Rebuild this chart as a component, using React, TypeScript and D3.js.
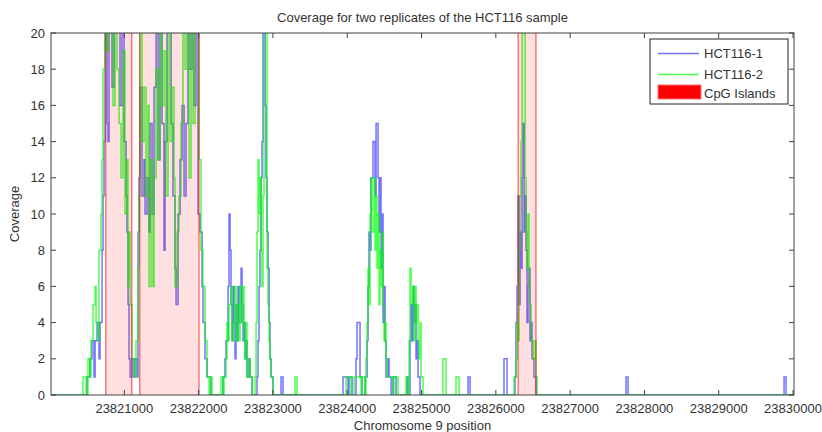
import React from "react";
import * as d3 from "d3";

// Positions are bp offsets after chromosome 9 position 23,820,000
const REGION_START = 23820000;

const hct1Offsets = [
  498, 538, 565, 592, 606, 633, 659, 673, 700, 713, 727, 740, 767, 781, 794, 834, 861, 902, 942, 969,
  996, 1023, 1036, 1050, 1063, 1077, 1104, 1131, 1144, 1171, 1184, 1198, 1211, 1238, 1265, 1279, 1306, 1332, 1346, 1373,
  1400, 1427, 1454, 1480, 1507, 1534, 1548, 1575, 1602, 1629, 1655, 1682, 1696, 1723, 1750, 1777, 1804, 1830, 1857, 1884,
  1911, 1938, 1965, 1992, 2019, 2046, 2059, 2086, 2113, 2167,
  2328, 2355, 2369, 2396, 2409, 2423, 2436, 2450, 2463, 2476, 2490, 2503, 2517, 2530, 2544, 2571, 2584, 2598, 2611, 2625,
  2638, 2651, 2678, 2692, 2719, 2786, 2799, 2813, 2826, 2840, 2853, 2867, 2894, 2907, 2921, 2934, 2948, 2961, 2974, 3001,
  3109, 3136,
  3943, 4011, 4024, 4065, 4118, 4132, 4172, 4199, 4240, 4267, 4280, 4293, 4307, 4320, 4347, 4374, 4388, 4415, 4428, 4441,
  4455, 4468, 4482, 4495, 4509, 4522, 4549, 4563, 4590, 4616, 4657, 4805, 4818, 4845, 4859, 4872, 4886, 4899, 4913, 4926,
  4939, 4953, 4980, 5626, 5653, 6110, 6151,
  6258, 6271, 6285, 6299, 6312, 6326, 6339, 6353, 6366, 6380, 6393, 6407, 6420, 6433, 6447, 6460, 6474, 6487, 6514, 6541,
  7752, 7779, 9879, 9906,
];
const hct1Coverage = [
  1, 2, 3, 1, 3, 4, 2, 4, 8, 11, 14, 22, 15, 14, 24, 17, 25, 21, 16, 22,
  14, 11, 9, 5, 2, 1, 2, 1, 2, 1, 9, 12, 17, 11, 13, 10, 12, 9, 15, 10,
  17, 22, 13, 25, 15, 8, 14, 21, 23, 15, 11, 7, 5, 10, 13, 16, 11, 15, 25, 18,
  22, 16, 21, 10, 9, 6, 4, 2, 1, 0,
  1, 2, 3, 6, 10, 8, 5, 3, 6, 4, 2, 5, 3, 6, 4, 7, 5, 3, 4, 2,
  3, 1, 2, 1, 0, 1, 3, 6, 8, 12, 14, 25, 16, 12, 9, 7, 4, 2, 1, 0,
  1, 0,
  1, 0, 1, 0, 2, 4, 1, 0, 1, 3, 6, 9, 8, 12, 14, 11, 15, 12, 9, 12,
  7, 10, 4, 6, 3, 1, 2, 1, 0, 1, 0, 1, 0, 3, 5, 3, 6, 4, 5, 2,
  3, 1, 0, 1, 0, 2, 0,
  1, 4, 6, 11, 5, 9, 7, 12, 15, 9, 11, 8, 4, 6, 7, 3, 4, 2, 1, 0,
  1, 0, 1, 0,
];

const hct2Offsets = [
  444, 485, 511, 538, 552, 579, 606, 619, 646, 659, 686, 700, 713, 740, 767, 794, 821, 848, 875, 902,
  929, 956, 983, 1009, 1036, 1050, 1063, 1077, 1104, 1131, 1157, 1184, 1198, 1211, 1238, 1265, 1292, 1319, 1332, 1359,
  1386, 1400, 1427, 1454, 1480, 1507, 1534, 1561, 1588, 1615, 1642, 1669, 1682, 1709, 1736, 1763, 1790, 1817, 1844, 1871,
  1898, 1925, 1952, 1978, 2005, 2032, 2059, 2086, 2113, 2140, 2153, 2180,
  2301, 2328, 2342, 2369, 2382, 2396, 2409, 2436, 2450, 2463, 2490, 2503, 2517, 2544, 2557, 2584, 2598, 2611, 2625, 2638,
  2651, 2678, 2692, 2719, 2759, 2773, 2786, 2799, 2813, 2826, 2840, 2853, 2867, 2880, 2894, 2921, 2934, 2948, 2961, 2974,
  3001, 3297, 3324,
  3984, 4051, 4092, 4186, 4199, 4240, 4253, 4267, 4280, 4293, 4307, 4320, 4334, 4361, 4374, 4388, 4401, 4415, 4428, 4441,
  4455, 4468, 4482, 4495, 4509, 4522, 4536, 4616, 4630, 4684, 4791, 4818, 4832, 4845, 4859, 4886, 4899, 4913, 4926, 4939,
  4953, 4966, 4980, 4993, 5020, 5289, 5330, 5464, 5505,
  6245, 6271, 6285, 6299, 6312, 6326, 6339, 6353, 6366, 6380, 6393, 6407, 6420, 6433, 6447, 6460, 6474, 6501, 6528, 6541,
  6555,
];
const hct2Coverage = [
  1, 0, 2, 1, 3, 5, 6, 4, 3, 8, 10, 13, 18, 24, 19, 25, 20, 16, 22, 18,
  15, 12, 19, 10, 13, 6, 9, 5, 2, 1, 3, 7, 11, 21, 14, 17, 11, 16, 6, 13,
  6, 12, 18, 13, 22, 16, 19, 11, 25, 14, 17, 12, 6, 9, 11, 15, 24, 18, 22, 12,
  20, 15, 25, 21, 13, 8, 6, 3, 1, 0, 1, 0,
  1, 0, 1, 2, 4, 3, 5, 6, 3, 4, 6, 3, 5, 3, 6, 4, 6, 3, 2, 4,
  1, 2, 1, 0, 1, 4, 9, 13, 10, 12, 8, 6, 11, 21, 23, 7, 5, 3, 2, 1,
  0, 1, 0,
  1, 0, 1, 0, 1, 0, 2, 4, 7, 5, 10, 12, 9, 12, 8, 11, 7, 10, 5, 8,
  6, 9, 5, 3, 4, 2, 1, 0, 1, 0, 1, 0, 3, 7, 5, 6, 3, 6, 4, 5,
  3, 2, 4, 1, 0, 2, 0, 1, 0,
  1, 2, 4, 3, 8, 11, 14, 24, 20, 25, 12, 9, 7, 10, 6, 5, 3, 2, 3, 1,
  0,
];

const cpgStarts = [23820750, 23821207, 23826300];
const cpgEnds = [23821100, 23822005, 23826540];

const xTicks = [23821000, 23822000, 23823000, 23824000, 23825000, 23826000, 23827000, 23828000, 23829000, 23830000];
const yTicks = [0, 2, 4, 6, 8, 10, 12, 14, 16, 18, 20];

const seriesNames = ["HCT116-1", "HCT116-2"];
const islandName = "CpG Islands";
const titleText = "Coverage for two replicates of the HCT116 sample";
const xLabelText = "Chromosome 9 position";
const yLabelText = "Coverage";

const W = 822;
const H = 432;
const M = { left: 51, right: 28, top: 33, bottom: 37 };
const FONT = "'Liberation Sans', Arial, Helvetica, sans-serif";
const TEXT = "#333";
const AXIS = "#404040";

export default function App() {
  const x = d3.scaleLinear().domain([23820013, 23830013]).range([M.left, W - M.right]);
  const y = d3.scaleLinear().domain([0, 20]).range([H - M.bottom, M.top]);
  const line = d3
    .line<[number, number]>()
    .x((d) => x(d[0]))
    .y((d) => y(d[1]))
    .curve(d3.curveStepAfter);

  const mk = (offs: number[], cov: number[]) => {
    const pts: [number, number][] = [[x.domain()[0], 0], [REGION_START + offs[0], 0]];
    offs.forEach((o, i) => pts.push([REGION_START + o, cov[i]]));
    pts.push([x.domain()[1], 0]);
    return line(pts) || "";
  };
  const p1 = mk(hct1Offsets, hct1Coverage);
  const p2 = mk(hct2Offsets, hct2Coverage);

  const x0 = M.left, x1 = W - M.right, yb = H - M.bottom, yt = M.top;
  const tick = 5;
  const colors = ["#0000ff", "#00ff00"];
  const opac = [0.55, 0.7];

  const lg = { x: 650, y: 39, w: 138, h: 65 };

  return (
    <svg width={W} height={H} style={{ position: "absolute", left: 0, top: 0, background: "#fff" }}>
      <rect x={0} y={0} width={W} height={H} fill="#fff" />
      <defs>
        <clipPath id="plot">
          <rect x={x0} y={yt} width={x1 - x0} height={yb - yt} />
        </clipPath>
      </defs>
      <g clipPath="url(#plot)">
        <path d={p1} fill="none" stroke={colors[0]} strokeOpacity={opac[0]} strokeWidth={1.5} />
        <path d={p2} fill="none" stroke={colors[1]} strokeOpacity={opac[1]} strokeWidth={1.5} />
        {cpgStarts.map((s, i) => (
          <rect
            key={i}
            x={x(s)}
            y={yt - 2}
            width={x(cpgEnds[i]) - x(s)}
            height={yb - yt + 4}
            fill="#ff0000"
            fillOpacity={0.12}
            stroke="#ff0000"
            strokeOpacity={0.55}
            strokeWidth={1.4}
          />
        ))}
      </g>
      {/* axes box */}
      <rect x={x0} y={yt} width={x1 - x0} height={yb - yt} fill="none" stroke={AXIS} strokeWidth={1} />
      {xTicks.map((t) => (
        <g key={t}>
          <line x1={x(t)} x2={x(t)} y1={yb} y2={yb - tick} stroke={AXIS} />
          <line x1={x(t)} x2={x(t)} y1={yt} y2={yt + tick} stroke={AXIS} />
          <text x={x(t)} y={yb + 18} textAnchor="middle" fontFamily={FONT} fontSize={13} fill={TEXT}>
            {t}
          </text>
        </g>
      ))}
      {yTicks.map((t) => (
        <g key={t}>
          <line x1={x0} x2={x0 + tick} y1={y(t)} y2={y(t)} stroke={AXIS} />
          <line x1={x1} x2={x1 - tick} y1={y(t)} y2={y(t)} stroke={AXIS} />
          <text x={x0 - 6} y={y(t) + 4.5} textAnchor="end" fontFamily={FONT} fontSize={13} fill={TEXT}>
            {t}
          </text>
        </g>
      ))}
      <text x={(x0 + x1) / 2} y={22} textAnchor="middle" fontFamily={FONT} fontSize={13} fill={TEXT}>
        {titleText}
      </text>
      <text x={(x0 + x1) / 2} y={430} textAnchor="middle" fontFamily={FONT} fontSize={13} fill={TEXT}>
        {xLabelText}
      </text>
      <text
        transform={`translate(19, ${(yt + yb) / 2}) rotate(-90)`}
        textAnchor="middle"
        fontFamily={FONT}
        fontSize={13}
        fill={TEXT}
      >
        {yLabelText}
      </text>
      {/* legend */}
      <g>
        <rect x={lg.x} y={lg.y} width={lg.w} height={lg.h} fill="#fff" stroke="#222" strokeWidth={1} />
        {seriesNames.map((n, i) => (
          <g key={n}>
            <line
              x1={lg.x + 8}
              x2={lg.x + 49}
              y1={lg.y + 14.5 + i * 21}
              y2={lg.y + 14.5 + i * 21}
              stroke={colors[i]}
              strokeOpacity={opac[i]}
              strokeWidth={1.5}
            />
            <text x={lg.x + 54} y={lg.y + 19 + i * 21} fontFamily={FONT} fontSize={13} fill={TEXT}>
              {n}
            </text>
          </g>
        ))}
        <rect x={lg.x + 8} y={lg.y + 46} width={43} height={14} fill="#ff0000" stroke="#ff7070" strokeWidth={1} />
        <text x={lg.x + 54} y={lg.y + 59} fontFamily={FONT} fontSize={13} fill={TEXT}>
          {islandName}
        </text>
      </g>
    </svg>
  );
}
